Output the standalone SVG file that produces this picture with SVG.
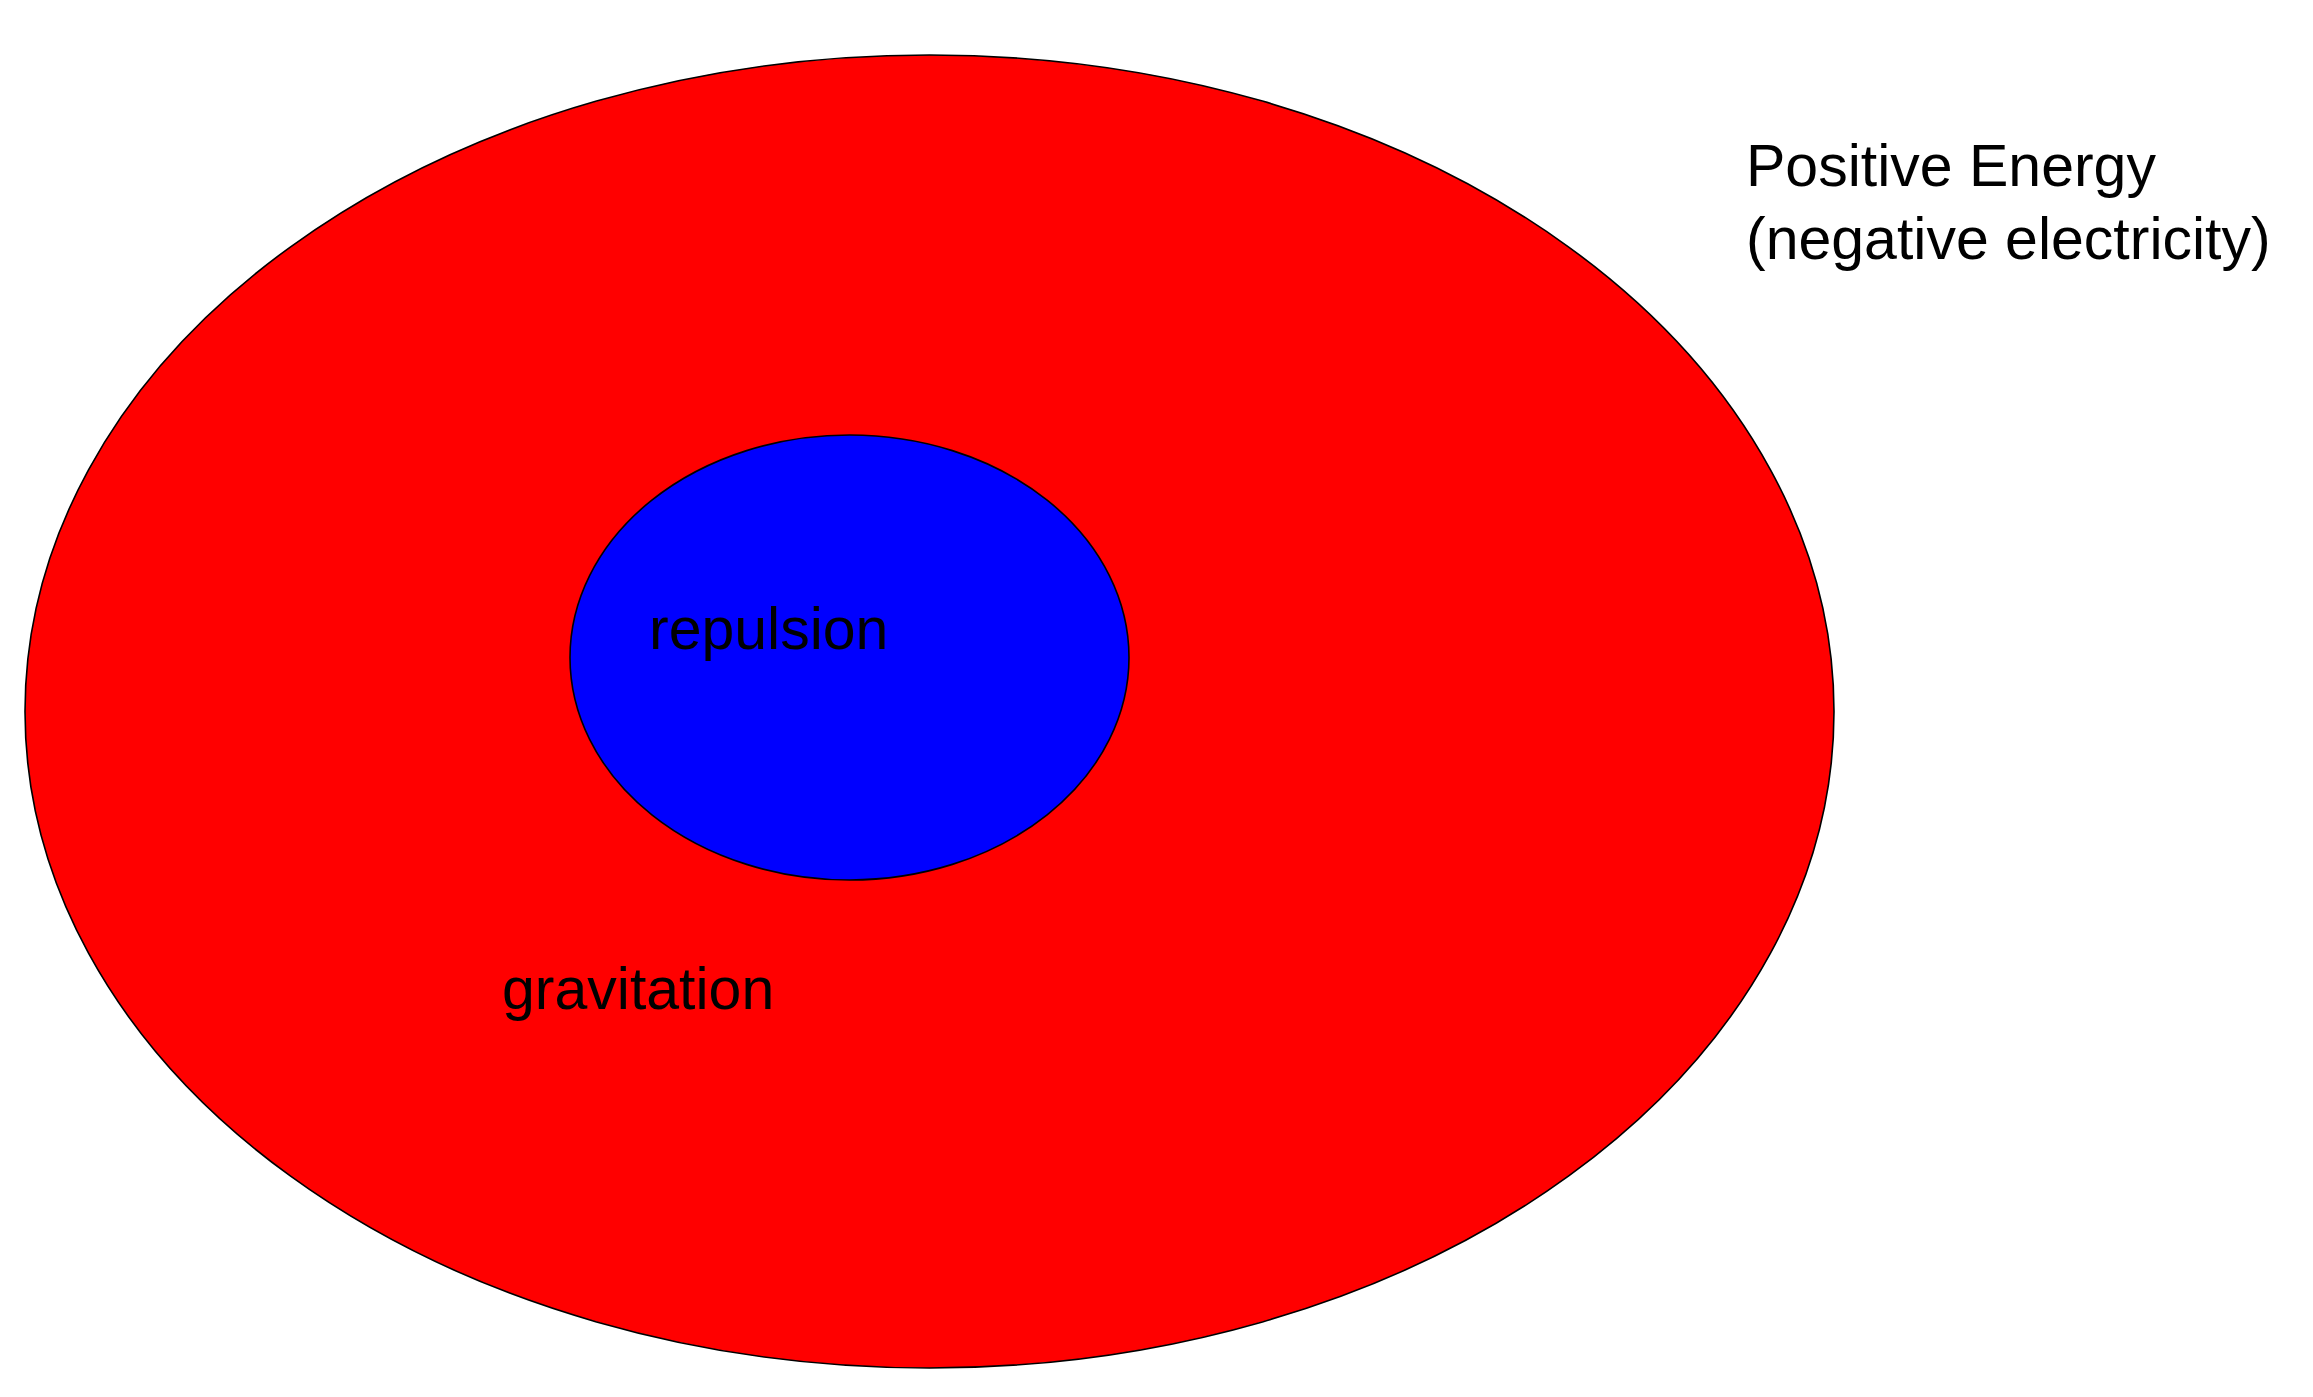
<svg xmlns="http://www.w3.org/2000/svg" width="2313" height="1397" viewBox="0 0 2313 1397">
<style>
.lbl{font-family:"Liberation Sans",Arial,sans-serif;font-size:59px;fill:#000}
.shape{stroke:#000;stroke-width:1.6}
</style>
<rect width="2313" height="1397" fill="#fff"/>
<g id="outer">
<ellipse class="shape" cx="929.5" cy="711.5" rx="904.5" ry="656.5" fill="#ff0000"/>
<text class="lbl" x="502" y="1009">gravitation</text>
</g>
<g id="inner">
<ellipse class="shape" cx="849.5" cy="657.5" rx="279.5" ry="222.5" fill="#0000ff"/>
<text class="lbl" x="649" y="649">repulsion</text>
</g>
<g id="legend">
<text class="lbl" x="1746" y="186">Positive Energy</text>
<text class="lbl" x="1746" y="259">(negative electricity)</text>
</g>
<g id="connectors"/>
</svg>
